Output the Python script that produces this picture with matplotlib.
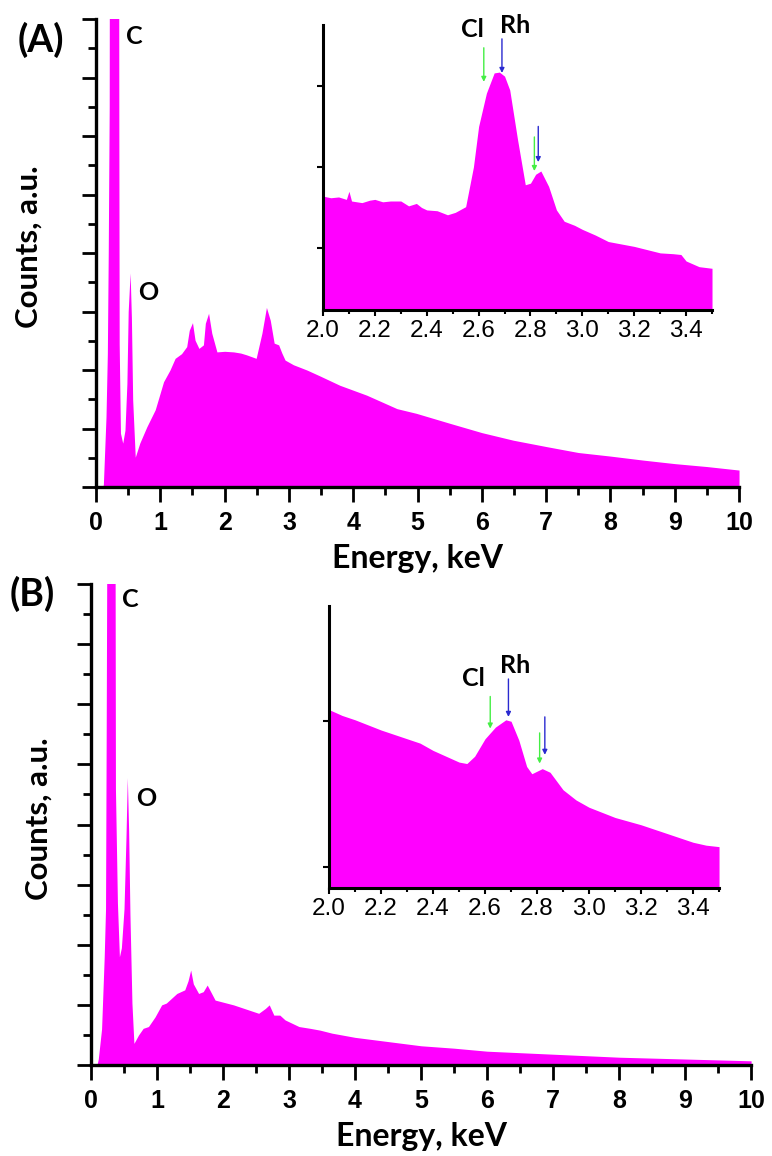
import matplotlib
matplotlib.use("Agg")
from matplotlib import pyplot as plt
from matplotlib.ticker import MultipleLocator, NullFormatter

# ---- spectrum (A), main panel: energy (keV) and counts (a.u.)
energy_a = [0.0, 0.10, 0.114, 0.155, 0.176, 0.19, 0.205, 0.21, 0.35, 0.355, 0.36, 0.38, 0.415,
            0.45, 0.48, 0.50, 0.53, 0.55, 0.57, 0.61, 0.68, 0.79, 0.92, 1.05, 1.15,
            1.23, 1.33, 1.41, 1.45, 1.50, 1.54, 1.60, 1.67, 1.70, 1.75, 1.80, 1.88,
            2.00, 2.14, 2.25, 2.34, 2.49, 2.58, 2.65, 2.71, 2.77, 2.84, 2.89, 2.94,
            3.07, 3.28, 3.48, 3.79, 4.21, 4.68, 4.98, 5.5, 6.0, 6.49, 7.01, 7.5,
            7.99, 8.51, 9.0, 9.5, 10.0]
counts_a = [0.0, 0.0, 0.04, 1.2, 2.28, 4.0, 6.5, 12.0, 12.0, 6.0, 2.45, 0.92, 0.75,
            0.97, 1.77, 3.0, 3.66, 2.9, 1.49, 0.51, 0.75, 1.03, 1.32, 1.8, 2.0,
            2.2, 2.28, 2.4, 2.68, 2.81, 2.51, 2.37, 2.43, 2.8, 2.97, 2.63, 2.31,
            2.32, 2.31, 2.29, 2.26, 2.2, 2.63, 3.07, 2.85, 2.46, 2.43, 2.29, 2.17,
            2.09, 2.0, 1.9, 1.74, 1.57, 1.34, 1.26, 1.09, 0.93, 0.80, 0.69, 0.59,
            0.53, 0.46, 0.40, 0.35, 0.29]

# ---- spectrum (A), inset 2.0 - 3.5 keV
inset_energy_a = [2.0, 2.03, 2.06, 2.09, 2.10, 2.11, 2.15, 2.18, 2.2, 2.23, 2.26, 2.3,
                  2.33, 2.36, 2.38, 2.4, 2.44, 2.48, 2.51, 2.55, 2.58, 2.6, 2.63,
                  2.66, 2.68, 2.70, 2.72, 2.75, 2.78, 2.8, 2.82, 2.84, 2.87, 2.9,
                  2.93, 2.97, 3.0, 3.05, 3.1, 3.15, 3.2, 3.25, 3.3, 3.35, 3.38, 3.4,
                  3.45, 3.5]
inset_counts_a = [1.64, 1.62, 1.63, 1.60, 1.70, 1.58, 1.56, 1.59, 1.60, 1.57, 1.58, 1.58,
                  1.52, 1.55, 1.50, 1.47, 1.46, 1.41, 1.44, 1.51, 2.0, 2.5, 2.91,
                  3.16, 3.17, 3.12, 2.95, 2.34, 1.78, 1.80, 1.91, 1.95, 1.76, 1.47,
                  1.33, 1.28, 1.23, 1.16, 1.08, 1.05, 1.02, 0.98, 0.94, 0.93, 0.92, 0.84,
                  0.77, 0.75]

# ---- spectrum (B), main panel
energy_b = [0.0, 0.09, 0.11, 0.16, 0.20, 0.22, 0.23, 0.25, 0.36, 0.37, 0.40, 0.43,
            0.46, 0.50, 0.53, 0.55, 0.57, 0.59, 0.62, 0.65, 0.72, 0.79, 0.87, 0.97,
            1.07, 1.14, 1.30, 1.42, 1.47, 1.51, 1.55, 1.63, 1.70, 1.76, 1.88, 2.16,
            2.54, 2.64, 2.70, 2.77, 2.86, 2.94, 3.15, 3.32, 3.47, 3.65, 4.0, 4.5,
            5.0, 5.5, 6.0, 7.0, 8.0, 9.0, 10.0]
counts_b = [0.0, 0.0, 0.1, 0.6, 1.8, 2.6, 5.5, 12.0, 12.0, 4.6, 2.7, 1.8,
            1.95, 2.6, 3.8, 4.78, 3.9, 2.5, 1.03, 0.36, 0.5, 0.61, 0.64, 0.8,
            1.0, 1.03, 1.19, 1.25, 1.4, 1.58, 1.35, 1.19, 1.22, 1.33, 1.08, 1.0,
            0.86, 0.94, 1.0, 0.83, 0.83, 0.75, 0.64, 0.61, 0.58, 0.53, 0.46, 0.39,
            0.32, 0.28, 0.23, 0.18, 0.13, 0.10, 0.07]

# ---- spectrum (B), inset 2.0 - 3.5 keV
inset_energy_b = [2.0, 2.05, 2.1, 2.2, 2.3, 2.35, 2.4, 2.45, 2.5, 2.53, 2.56, 2.6,
                  2.64, 2.68, 2.7, 2.73, 2.76, 2.78, 2.82, 2.85, 2.9, 2.95, 3.0,
                  3.1, 3.2, 3.3, 3.4, 3.45, 3.5]
inset_counts_b = [2.08, 2.04, 2.01, 1.94, 1.88, 1.85, 1.80, 1.76, 1.72, 1.71, 1.76, 1.88,
                  1.96, 2.01, 2.00, 1.87, 1.69, 1.64, 1.675, 1.65, 1.53, 1.46, 1.41,
                  1.34, 1.29, 1.23, 1.17, 1.15, 1.14]

# Cl / Rh marker arrows: (energy, y_start, y_end)
arrows_a = [(2.62, 3.47, 3.05, "green"), (2.69, 3.58, 3.16, "blue"),
            (2.815, 2.37, 1.95, "green"), (2.83, 2.50, 2.06, "blue")]
arrows_b = [(2.62, 2.17, 1.95, "green"), (2.69, 2.29, 2.03, "blue"),
            (2.81, 1.92, 1.71, "green"), (2.83, 2.03, 1.77, "blue")]
arrow_colors = {"green": "#44ee44", "blue": "#2a2ad0"}

MAGENTA = "#ff00ff"
label_font = "Lato"
tick_font = "Liberation Sans"

fig = plt.figure(figsize=(7.72, 11.56), dpi=100)


def main_panel(rect, x, y, ylabel_x):
    ax = fig.add_axes(rect)
    ax.fill_between(x, y, 0, color=MAGENTA, linewidth=0)
    ax.set_xlim(0, 10)
    ax.set_ylim(0, 8)
    ax.spines["top"].set_visible(False)
    ax.spines["right"].set_visible(False)
    ax.spines["left"].set_linewidth(2.4)
    ax.spines["bottom"].set_linewidth(2.4)
    ax.xaxis.set_major_locator(MultipleLocator(1))
    ax.xaxis.set_minor_locator(MultipleLocator(0.5))
    ax.yaxis.set_major_locator(MultipleLocator(1))
    ax.yaxis.set_minor_locator(MultipleLocator(0.5))
    ax.yaxis.set_major_formatter(NullFormatter())
    ax.tick_params(axis="x", which="major", length=11, width=2, pad=6)
    ax.tick_params(axis="x", which="minor", length=6, width=2)
    ax.tick_params(axis="y", which="major", length=10, width=2)
    ax.tick_params(axis="y", which="minor", length=6, width=2)
    for lab in ax.get_xticklabels():
        lab.set_fontfamily(tick_font)
        lab.set_fontweight("bold")
        lab.set_fontsize(18)
    ax.set_xlabel("Energy, keV", fontsize=23, fontweight="bold",
                  family=label_font, labelpad=7)
    ax.set_ylabel("Counts, a.u.", fontsize=22.5, fontweight="bold",
                  family=label_font)
    ax.yaxis.set_label_coords(ylabel_x, 0.513)
    return ax


def inset_panel(rect, x, y, ylo, yhi, arrows, cl_pos, rh_pos):
    ax = fig.add_axes(rect)
    ax.fill_between(x, y, 0, color=MAGENTA, linewidth=0)
    ax.set_xlim(2.0, 3.5)
    ax.set_ylim(ylo, yhi)
    ax.spines["top"].set_visible(False)
    ax.spines["right"].set_visible(False)
    ax.spines["left"].set_linewidth(2.2)
    ax.spines["bottom"].set_linewidth(2.2)
    ax.xaxis.set_major_locator(MultipleLocator(0.2))
    ax.xaxis.set_minor_locator(MultipleLocator(0.1))
    ax.yaxis.set_major_locator(MultipleLocator(1))
    ax.yaxis.set_major_formatter(NullFormatter())
    ax.tick_params(which="major", length=4, width=1.5)
    ax.tick_params(which="minor", length=3, width=1.5)
    ax.set_xticks([2.0, 2.2, 2.4, 2.6, 2.8, 3.0, 3.2, 3.4])
    ax.set_xticklabels(["2.0", "2.2", "2.4", "2.6", "2.8", "3.0", "3.2", "3.4"],
                       fontsize=17.5, family=tick_font)
    for ex, y0, y1, c in arrows:
        ax.annotate("", xy=(ex, y1), xytext=(ex, y0),
                    arrowprops=dict(arrowstyle="-|>", color=arrow_colors[c],
                                    lw=1.0, mutation_scale=7,
                                    shrinkA=0, shrinkB=0),
                    annotation_clip=False)
    ax.text(cl_pos[0], cl_pos[1], "Cl", fontsize=18, fontweight="bold",
            family=label_font, ha="center", va="center", clip_on=False)
    ax.text(rh_pos[0], rh_pos[1], "Rh", fontsize=18, fontweight="bold",
            family=label_font, ha="center", va="center", clip_on=False)
    return ax


ax_a = main_panel([0.1244, 0.5787, 0.8329, 0.4048], energy_a, counts_a, -0.0824)
ax_a.text(0.59, 7.71, "C", fontsize=18, fontweight="bold", family=label_font,
          ha="center", va="center")
ax_a.text(0.81, 3.33, "O", fontsize=18, fontweight="bold", family=label_font,
          ha="center", va="center")

ax_b = main_panel([0.1179, 0.0787, 0.855, 0.4161], energy_b, counts_b, -0.0576)
ax_b.text(0.59, 7.75, "C", fontsize=18, fontweight="bold", family=label_font,
          ha="center", va="center")
ax_b.text(0.83, 4.43, "O", fontsize=18, fontweight="bold", family=label_font,
          ha="center", va="center")

inset_panel([0.4184, 0.7318, 0.5039, 0.2465], inset_energy_a, inset_counts_a,
            0.235, 3.75, arrows_a, (2.578, 3.69), (2.74, 3.75))
inset_panel([0.4262, 0.2318, 0.5052, 0.2439], inset_energy_b, inset_counts_b,
            0.856, 2.79, arrows_b, (2.556, 2.29), (2.715, 2.38))

fig.text(41 / 772, 1 - 40 / 1156, "(A)", fontsize=27, fontweight="bold",
         family=label_font, ha="center", va="center")
fig.text(32 / 772, 1 - 594 / 1156, "(B)", fontsize=27, fontweight="bold",
         family=label_font, ha="center", va="center")

fig.savefig("out.png", dpi=100)
